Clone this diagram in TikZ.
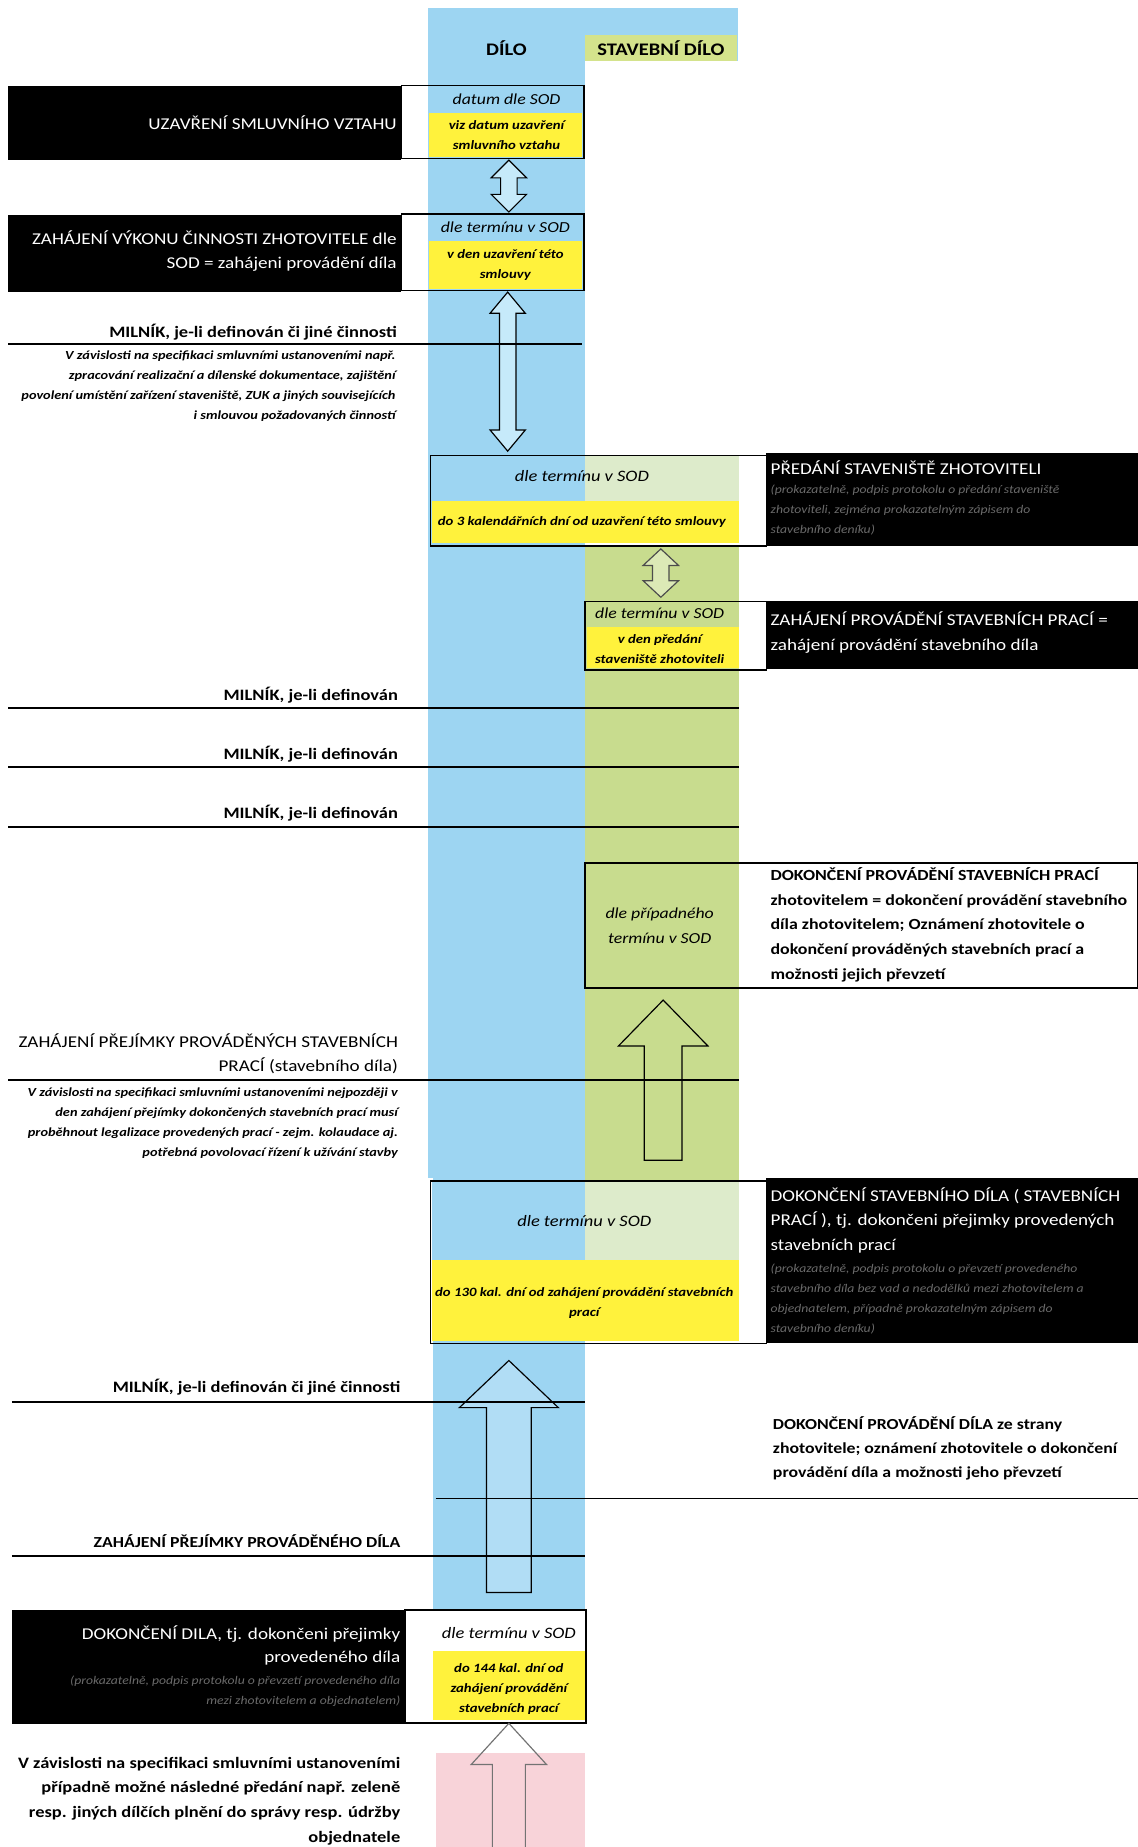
\documentclass[tikz,border=0pt]{standalone}
\usepackage{fontspec}
\setmainfont{Carlito}[FakeStretch=1.16]
\definecolor{colblue}{HTML}{9DD5F2}
\definecolor{colgreen}{HTML}{C8DC8E}
\definecolor{colhgreen}{HTML}{D4E38C}
\definecolor{colpale}{HTML}{DDEBCB}
\definecolor{colyellow}{HTML}{FFF23C}
\definecolor{colpink}{HTML}{F8D3D9}
\definecolor{colbarrow}{HTML}{C6EAFA}
\definecolor{colgarrow}{HTML}{DCE9B6}
\definecolor{colfaint}{HTML}{6A6A6A}
\newcommand\fsz[2]{\fontsize{#1}{#2}\selectfont}
% double vertical arrow: style, cx, ytop, ybot, head half, shaft half, head length
\newcommand\dblarr[7]{\draw[#1] (#2,#3) -- ({#2+#5},{#3+#7}) -- ({#2+#6},{#3+#7}) -- ({#2+#6},{#4-#7}) -- ({#2+#5},{#4-#7}) -- (#2,#4) -- ({#2-#5},{#4-#7}) -- ({#2-#6},{#4-#7}) -- ({#2-#6},{#3+#7}) -- ({#2-#5},{#3+#7}) -- cycle;}
% up arrow: style, cx, ytip, ybot, head half, shaft half, head length
\newcommand\uparr[7]{\draw[#1] (#2,#3) -- ({#2+#5},{#3+#7}) -- ({#2+#6},{#3+#7}) -- ({#2+#6},#4) -- ({#2-#6},#4) -- ({#2-#6},{#3+#7}) -- ({#2-#5},{#3+#7}) -- cycle;}
\begin{document}
\begin{tikzpicture}[x=1pt,y=-1pt,
  blackbox/.style={fill=black, draw=none, inner sep=0, anchor=north west},
  outbox/.style={draw=black, line width=1.3pt, inner sep=0, anchor=north west},
  wtext/.style={text=white, inner sep=0, font=\fsz{14}{20}},
  ftext/.style={text=colfaint, inner sep=0, font=\fsz{10}{17}\itshape},
  mtext/.style={inner sep=0, font=\fsz{13.5}{21}\bfseries},
  ntext/.style={inner sep=0, font=\fsz{14}{21}},
  ittext/.style={inner sep=0, font=\fsz{10.5}{17}\bfseries\itshape, align=right},
  stript/.style={inner sep=0, font=\fsz{13.5}{20}\itshape},
  yelt/.style={inner sep=0, font=\fsz{10.8}{17}\bfseries\itshape, align=center},
  hline/.style={line width=1.4pt},
  barrow/.style={draw=black, line width=1pt, fill=colbarrow},
  garrow/.style={draw=black!70, line width=1pt, fill=colgarrow},
  oarrow/.style={draw=black!55, line width=1pt},
]
\useasboundingbox (0,0) rectangle (966,1568);

% ---- columns
\fill[colblue] (363,52) rectangle (497,1000);
\fill[colblue] (368,1000) rectangle (497,1367);
\fill[colgreen] (497,463) rectangle (627,1002);
\fill[colpink] (370,1488) rectangle (497,1568);

% ---- header
\node[fill=colblue, inner sep=0, minimum width=263, minimum height=45, anchor=north west] (hdr) at (363,7) {};
\fill[colhgreen] (497,30) rectangle (626,52);
\node[inner sep=0, font=\fsz{15}{18}\bfseries] (dilo) at (430,41) {DÍLO};
\node[inner sep=0, font=\fsz{15}{18}\bfseries] (sdilo) at (561,41) {STAVEBNÍ DÍLO};

% ---- row 1
\node[blackbox, minimum width=333, minimum height=63] (b1) at (7,73) {};
\node[wtext, anchor=east] (t1) at (337,104) {UZAVŘENÍ SMLUVNÍHO VZTAHU};
\fill[colblue] (364,73) rectangle (494,96);
\fill[colyellow] (364,96) rectangle (494,133);
\node[outbox, minimum width=155, minimum height=62] (o1) at (340,72) {};
\node[stript, font=\fsz{13}{18}\itshape] (s1) at (430,84) {datum dle SOD};
\node[yelt] (y1) at (430,115) {viz datum uzavření\\smluvního vztahu};

\dblarr{barrow}{432}{136}{180}{15}{7}{15}

% ---- row 2
\node[blackbox, minimum width=333, minimum height=66] (b2) at (7,182) {};
\node[wtext, anchor=east, align=right] (t2) at (337,213) {ZAHÁJENÍ VÝKONU ČINNOSTI ZHOTOVITELE dle\\SOD = zahájeni provádění díla};
\fill[colblue] (364,182) rectangle (494,205);
\fill[colyellow] (364,205) rectangle (494,245);
\node[outbox, minimum width=155, minimum height=65] (o2) at (340,181) {};
\node[stript, font=\fsz{13}{18}\itshape] (s2) at (429,193) {dle termínu v SOD};
\node[yelt] (y2) at (429,225) {v den uzavření této\\smlouvy};

\dblarr{barrow}{431}{248}{383}{15}{7}{18}

% ---- milestone 1
\node[mtext, anchor=east] (m1) at (337,282) {MILNÍK, je-li definován či jiné činnosti};
\draw[hline] (7,292) -- (494,292);
\node[ittext, anchor=east] (i1) at (336,328) {V závislosti na specifikaci smluvními ustanoveními např.\\zpracování realizační a dílenské dokumentace, zajištění\\povolení umístění zařízení staveniště, ZUK a jiných souvisejících\\i smlouvou požadovaných činností};

% ---- box 3
\fill[colblue] (367,386) rectangle (497,425);
\fill[colpale] (497,386) rectangle (627,425);
\fill[colyellow] (367,425) rectangle (627,461);
\node[outbox, minimum width=285, minimum height=77] (o3) at (365,386) {};
\node[stript] (s3) at (494,404) {dle termínu v SOD};
\node[yelt] (y3) at (494,443) {do 3 kalendářních dní od uzavření této smlouvy};
\node[blackbox, minimum width=316, minimum height=79] (b3) at (650,384) {};
\node[wtext, anchor=west] (t3) at (654,397) {PŘEDÁNÍ STAVENIŠTĚ ZHOTOVITELI};
\node[ftext, anchor=west, align=left] (f3) at (654,433) {(prokazatelně, podpis protokolu o předání staveniště\\zhotoviteli, zejména prokazatelným zápisem do\\stavebního deníku)};

\dblarr{garrow}{561}{466}{507}{15}{7}{14}

% ---- box 4
\fill[colyellow] (498,532) rectangle (627,567);
\node[outbox, minimum width=154, minimum height=58] (o4) at (496,510) {};
\node[stript, font=\fsz{13}{18}\itshape] (s4) at (560,521) {dle termínu v SOD};
\node[yelt] (y4) at (560,551) {v den předání\\staveniště zhotoviteli};
\node[blackbox, minimum width=316, minimum height=58] (b4) at (650,510) {};
\node[wtext, anchor=west, align=left, font=\fsz{14}{22}] (t4) at (654,537) {ZAHÁJENÍ PROVÁDĚNÍ STAVEBNÍCH PRACÍ =\\zahájení provádění stavebního díla};

% ---- milestones 2-4
\node[mtext, anchor=east] (m2) at (338,590) {MILNÍK, je-li definován};
\draw[hline] (7,601) -- (627,601);
\node[mtext, anchor=east] (m3) at (338,640) {MILNÍK, je-li definován};
\draw[hline] (7,651) -- (627,651);
\node[mtext, anchor=east] (m4) at (338,690) {MILNÍK, je-li definován};
\draw[hline] (7,702) -- (627,702);

% ---- box 5
\node[outbox, minimum width=469, minimum height=106] (o5) at (496,732) {};
\node[stript, align=center, font=\fsz{13}{21}\itshape] (s5) at (560,786) {dle případného\\termínu v SOD};
\node[mtext, anchor=west, align=left, font=\fsz{13.1}{21}\bfseries] (t5) at (654,785) {DOKONČENÍ PROVÁDĚNÍ STAVEBNÍCH PRACÍ\\zhotovitelem = dokončení provádění stavebního\\díla zhotovitelem; Oznámení zhotovitele o\\dokončení prováděných stavebních prací a\\možnosti jejich převzetí};

\uparr{draw=black, line width=1pt, fill=colgreen}{563}{849}{985}{38}{16}{39}

% ---- acceptance start
\node[ntext, anchor=east, align=right] (z1) at (338,894.5) {ZAHÁJENÍ PŘEJÍMKY PROVÁDĚNÝCH STAVEBNÍCH\\PRACÍ (stavebního díla)};
\draw[hline] (7,917) -- (627,917);
\node[ittext, anchor=east] (i2) at (338,953.5) {V závislosti na specifikaci smluvními ustanoveními nejpozději v\\den zahájení přejímky dokončených stavebních prací musí\\proběhnout legalizace provedených prací - zejm. kolaudace aj.\\potřebná povolovací řízení k užívání stavby};

% ---- box 6
\fill[colblue] (367,1003) rectangle (497,1070);
\fill[colpale] (497,1003) rectangle (627,1070);
\fill[colyellow] (367,1070) rectangle (627,1138);
\node[outbox, minimum width=285, minimum height=138] (o6) at (365,1002) {};
\node[stript] (s6) at (496,1037) {dle termínu v SOD};
\node[yelt] (y6) at (496,1106) {do 130 kal. dní od zahájení provádění stavebních\\prací};
\node[blackbox, minimum width=316, minimum height=140] (b6) at (650,1000) {};
\node[wtext, anchor=west, align=left, font=\fsz{14}{21}] (t6) at (654,1036) {DOKONČENÍ STAVEBNÍHO DÍLA ( STAVEBNÍCH\\PRACÍ ), tj. dokončeni přejimky provedených\\stavebních prací};
\node[ftext, anchor=west, align=left] (f6) at (654,1102.5) {(prokazatelně, podpis protokolu o převzetí provedeného\\stavebního díla bez vad a nedodělků mezi zhotovitelem a\\objednatelem, případně prokazatelným zápisem do\\stavebního deníku)};

\uparr{draw=black, line width=1pt, fill=colblue!80!white}{432}{1155}{1352}{42}{19}{40}

% ---- lower milestones
\node[mtext, anchor=east] (m5) at (340,1178) {MILNÍK, je-li definován či jiné činnosti};
\draw[hline] (10,1190) -- (497,1190);
\node[mtext, anchor=west, align=left, font=\fsz{13}{20.5}\bfseries] (t7) at (656,1229.5) {DOKONČENÍ PROVÁDĚNÍ DÍLA ze strany\\zhotovitele; oznámení zhotovitele o dokončení\\provádění díla a možnosti jeho převzetí};
\draw[hline] (370,1272) -- (966,1272);
\node[mtext, anchor=east, font=\fsz{13}{20}\bfseries] (z2) at (340,1308) {ZAHÁJENÍ PŘEJÍMKY PROVÁDĚNÉHO DÍLA};
\draw[hline] (10,1321) -- (497,1321);

% ---- box 7
\node[blackbox, minimum width=333, minimum height=96] (b7) at (10,1367) {};
\node[wtext, anchor=east, align=right] (t8) at (340,1397) {DOKONČENÍ DILA, tj. dokončeni přejimky\\provedeného díla};
\node[ftext, anchor=east, align=right] (f8) at (340,1435.5) {(prokazatelně, podpis protokolu o převzetí provedeného díla\\mezi zhotovitelem a objednatelem)};
\fill[colyellow] (368,1402) rectangle (497,1460);
\node[outbox, minimum width=154, minimum height=96] (o7) at (343,1366) {};
\node[stript] (s7) at (432,1386) {dle termínu v SOD};
\node[yelt] (y7) at (432,1434) {do 144 kal. dní od\\zahájení provádění\\stavebních prací};

\draw[oarrow] (446,1568) -- (446,1498) -- (464,1498) -- (432,1463) -- (400,1498) -- (418,1498) -- (418,1568);

\node[mtext, anchor=east, align=right] (t9) at (340,1529) {V závislosti na specifikaci smluvními ustanoveními\\případně možné následné předání např. zeleně\\resp. jiných dílčích plnění do správy resp. údržby\\objednatele};
\end{tikzpicture}
\end{document}
